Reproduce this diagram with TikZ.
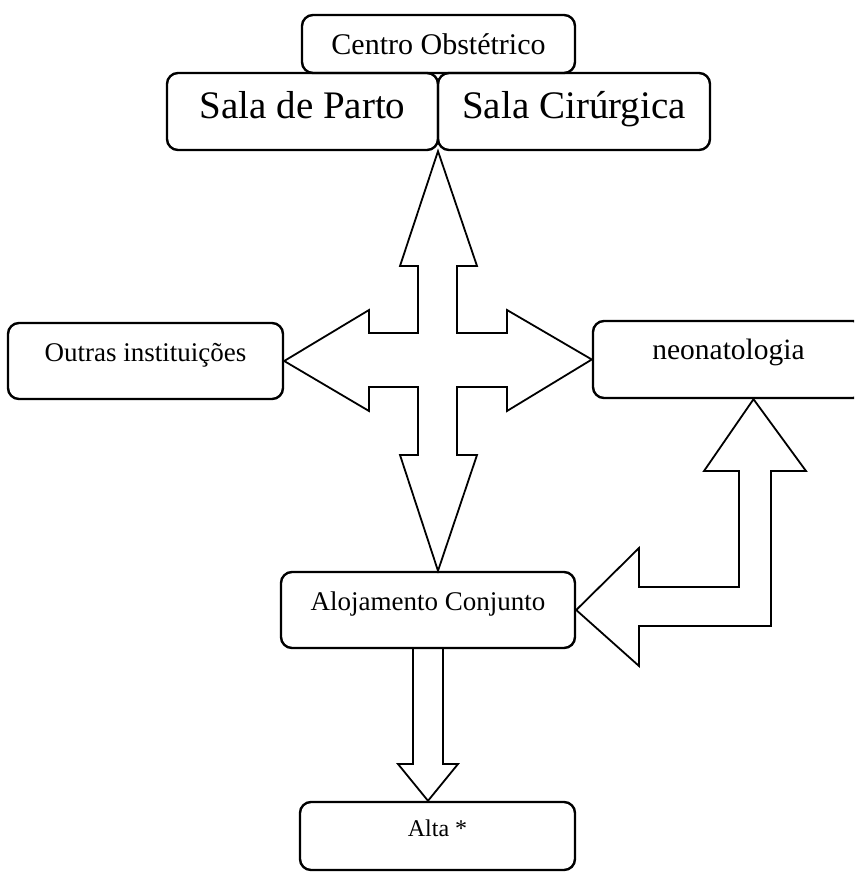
\documentclass[tikz,border=0pt]{standalone}
\usepackage{fontspec}
\setmainfont{Liberation Serif}
\usetikzlibrary{calc}

\tikzset{
  box/.style={draw, line width=2.4pt, rounded corners=11pt, inner sep=0pt},
  lowbox/.style={box, text height=12pt, text depth=12pt},
  salabox/.style={box, minimum height=77pt, text height=28pt, text depth=15pt,
    font=\fontsize{39}{42}\selectfont},
  bigarrow/.style={draw, line width=1.8pt, line join=miter},
}

\begin{document}
\begin{tikzpicture}[x=1pt,y=-1pt]
      \fill[white] (0,0) rectangle (854,875);
      \clip (0,0) rectangle (854,875);
      % boxes
      \node[box, minimum width=273pt, minimum height=58pt, font=\fontsize{30}{32}\selectfont]
        (centro) at (438.5,44) {Centro Obstétrico};
      \node[salabox, minimum width=271pt] (salaP) at (302.5,111.5) {Sala de Parto};
      \node[salabox, minimum width=272pt] (salaC) at (574,111.5) {Sala Cirúrgica};
      \node[lowbox, minimum width=275pt, minimum height=76pt, font=\fontsize{27}{30}\selectfont]
        (outras) at (145.5,361) {Outras instituições};
      \node[lowbox, minimum width=271pt, minimum height=77pt, font=\fontsize{29.5}{31}\selectfont]
        (neo) at (728.5,359.5) {neonatologia};
      \node[lowbox, minimum width=294pt, minimum height=76pt, font=\fontsize{27}{30}\selectfont]
        (aloj) at (428,610) {Alojamento Conjunto};
      \node[lowbox, minimum width=275pt, minimum height=68pt, font=\fontsize{24}{27}\selectfont]
        (alta) at (437.5,836) {Alta *};
      \coordinate (hub) at (438,360);
      % four-way arrow
      \draw[bigarrow] (hub |- salaP.south) -- (477,266) -- (457,266) -- (457,333)
        -- (507,333) -- (507,310) -- (neo.west) -- (507,411) -- (507,387) -- (457,387)
        -- (457,455) -- (477,455) -- (hub |- aloj.north) -- (400,455) -- (418,455)
        -- (418,387) -- (369,387) -- (369,411) -- (outras.east) -- (369,310)
        -- (369,333) -- (418,333) -- (418,266) -- (400,266) -- cycle;
      % bent arrow neonatologia / alojamento
      \draw[bigarrow] ($(neo.south)+(25,0)$) -- (806,471) -- (771,471) -- (771,626)
        -- (639,626) -- (639,666) -- (aloj.east) -- (639,548) -- (639,587)
        -- (739,587) -- (739,471) -- (704,471) -- cycle;
      % down to alta
      \draw[bigarrow] ($(aloj.south)+(-15,0)$) -- (413,764) -- (398,764)
        -- (aloj.south |- alta.north) -- (458,764) -- (443,764) -- ($(aloj.south)+(15,0)$);
\end{tikzpicture}
\end{document}
